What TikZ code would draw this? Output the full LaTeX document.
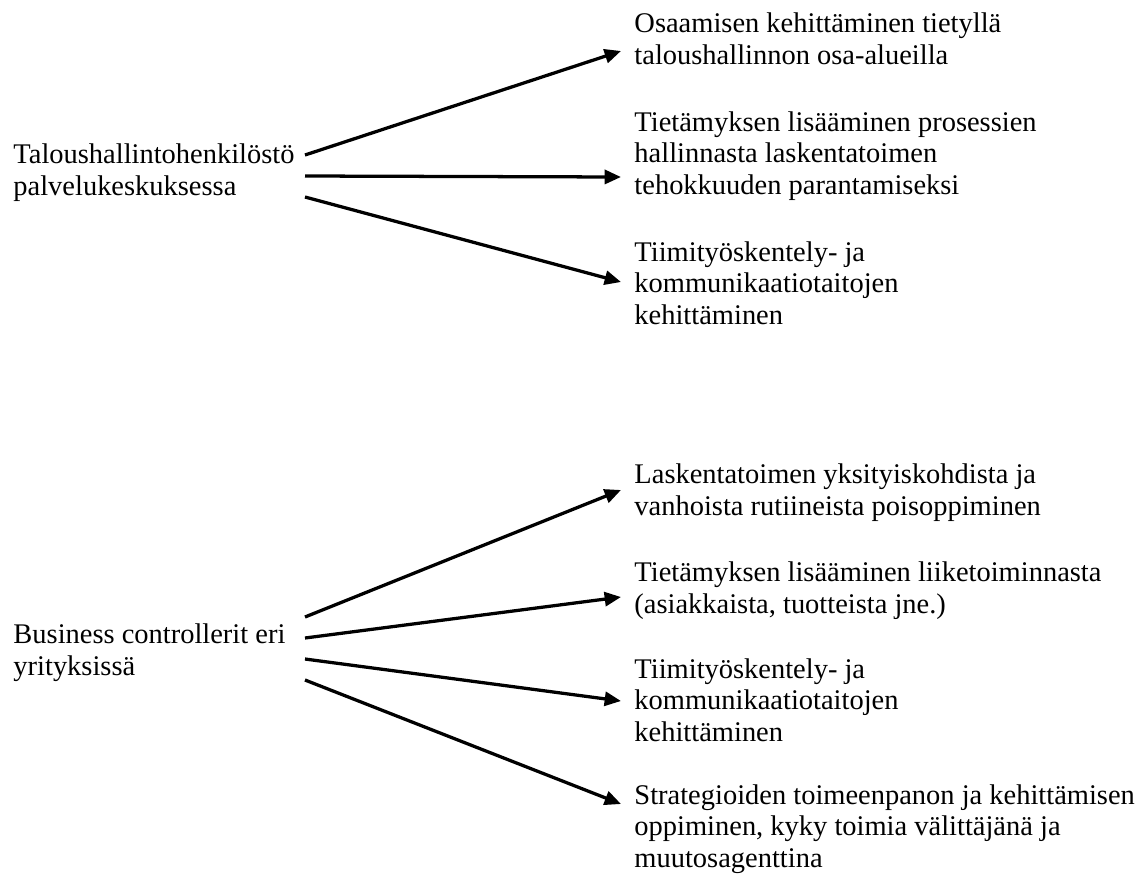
\documentclass[tikz,border=0pt]{standalone}
\usepackage{fontspec}
\setmainfont{Liberation Serif}
\usetikzlibrary{arrows.meta}

\begin{document}
\begin{tikzpicture}[x=0.4286pt,y=-0.4286pt,
	txt/.style={anchor=base west,align=left,inner sep=0pt,font=\fontsize{12.2pt}{13.5pt}\selectfont},
	arr/.style={line width=1.4pt,-{Triangle[length=7pt,width=6pt]}}]
	\def\xl{13}  %left texts
	\def\xr{634} %right texts
	\def\xs{305} %arrow starts
	\def\xt{621} %arrow tips
	\useasboundingbox (0,0) rectangle (1148,875);
	
	%LEFT LABELS (anchored at last line)
	\node[txt] (tal) at (\xl,195) {Taloushallintohenkilöstö\\palvelukeskuksessa};
	\node[txt] (bc)  at (\xl,675) {Business controllerit eri\\yrityksissä};
	
	%RIGHT LABELS (upper)
	\node[txt] (o1) at (\xr,64)  {Osaamisen kehittäminen tietyllä\\taloushallinnon osa-alueilla};
	\node[txt] (o2) at (\xr,194) {Tietämyksen lisääminen prosessien\\hallinnasta laskentatoimen\\tehokkuuden parantamiseksi};
	\node[txt] (o3) at (\xr,324) {Tiimityöskentely- ja\\kommunikaatiotaitojen\\kehittäminen};
	
	%RIGHT LABELS (lower)
	\node[txt] (b1) at (\xr,515) {Laskentatoimen yksityiskohdista ja\\vanhoista rutiineista poisoppiminen};
	\node[txt] (b2) at (\xr,613) {Tietämyksen lisääminen liiketoiminnasta\\(asiakkaista, tuotteista jne.)};
	\node[txt] (b3) at (\xr,741) {Tiimityöskentely- ja\\kommunikaatiotaitojen\\kehittäminen};
	\node[txt] (b4) at (\xr,867) {Strategioiden toimeenpanon ja kehittämisen\\oppiminen, kyky toimia välittäjänä ja\\muutosagenttina};
	
	%ARROWS
	\foreach \n/\y in {1/155,2/176,3/197,4/617,5/638,6/659,7/680}
		\coordinate (s\n) at (\xs,\y);
	\foreach \n/\y in {1/51,2/177,3/282,4/490,5/597,6/701,7/804}
		\coordinate (t\n) at (\xt,\y);
	\foreach \n in {1,...,7}
		\draw[arr] (s\n) -- (t\n);
\end{tikzpicture}
\end{document}
